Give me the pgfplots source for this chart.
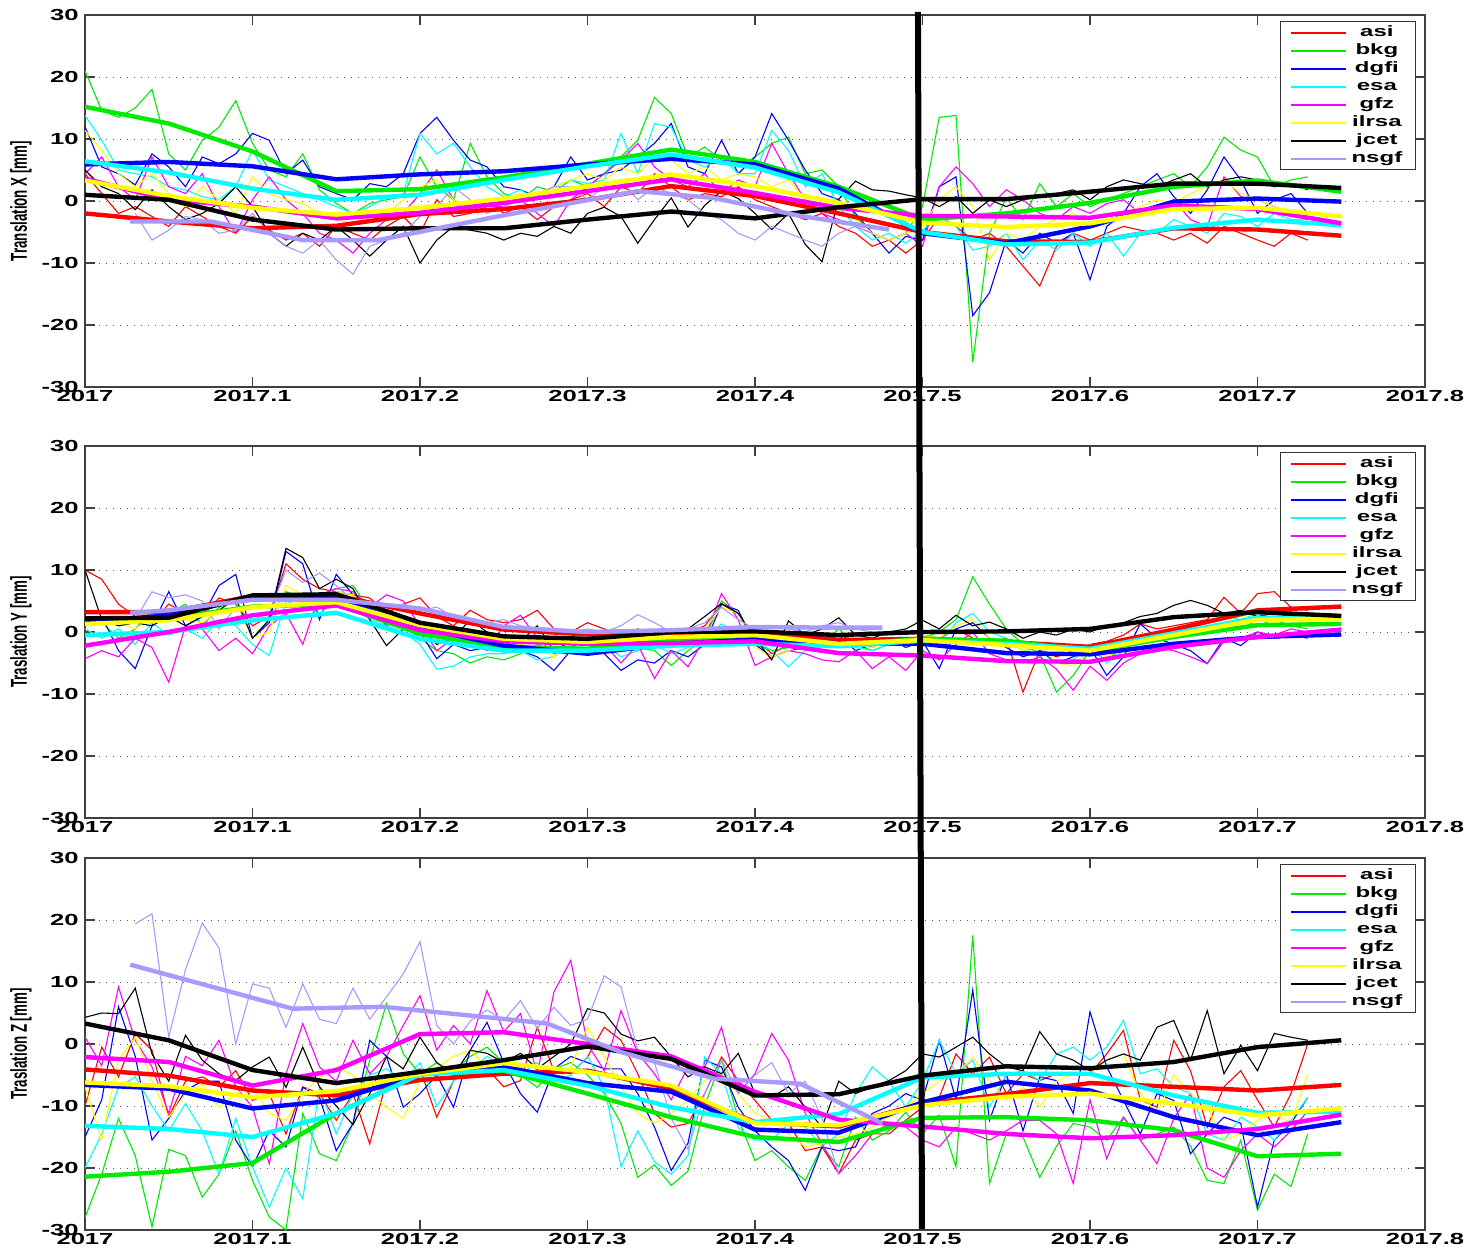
\documentclass[border=0pt]{standalone}
\usepackage{fontspec}
\setmainfont{Liberation Sans}
\newfontfamily\tickfamily[FakeStretch=1.6]{Liberation Sans}
\newfontfamily\ylabfamily[FakeStretch=0.58]{Liberation Sans}
\usepackage{pgfplots}
\usepackage{pgfplotstable}
\pgfplotsset{compat=1.18}

\newcommand{\tickfs}{\tickfamily\bfseries\fontsize{8}{9}\selectfont}
\newcommand{\legfs}{\tickfamily\bfseries\fontsize{7.5}{8}\selectfont}
\newcommand{\ylabfs}{\ylabfamily\bfseries\fontsize{11.5}{12}\selectfont}
% legend row: coloured line sample + centred label
\newcommand{\legent}[2]{\textcolor{#1}{\rule[1.3pt]{27.5pt}{0.9pt}}\hspace{1.5pt}\makebox[27.5pt][c]{\rule[-2pt]{0pt}{7.5pt}#2}}

\definecolor{cAsi}{rgb}{1,0,0}
\definecolor{cBkg}{rgb}{0,0.92,0}
\definecolor{cDgfi}{rgb}{0,0,1}
\definecolor{cEsa}{rgb}{0,1,1}
\definecolor{cGfz}{rgb}{1,0,1}
\definecolor{cIlrsa}{rgb}{1,1,0}
\definecolor{cJcet}{rgb}{0,0,0}
\definecolor{cNsgf}{rgb}{0.66,0.6,1}
\definecolor{cFrame}{rgb}{0.2,0.2,0.2}

% ---------------- Panel X ----------------
\pgfplotstableread{
x asi bkg dgfi esa gfz ilrsa jcet nsgf
2017.00 4.4 21.0 12.0 13.8 4.4 11.4 5.0 nan
2017.01 1.2 14.6 5.5 9.8 7.1 8.2 2.3 nan
2017.02 -2.0 13.5 4.4 5.0 2.3 4.4 1.2 nan
2017.03 -0.9 15.0 2.6 4.4 0.2 2.3 -1.4 -2.0
2017.04 -2.5 18.0 7.6 3.9 7.1 4.4 1.8 -6.3
2017.05 -4.1 7.6 5.5 2.3 2.3 1.2 -0.9 -4.7
2017.06 -0.9 5.0 2.3 1.8 1.2 -0.9 -3.0 -2.5
2017.07 -2.5 9.8 7.1 0.7 4.4 2.3 -2.0 -3.0
2017.08 -4.1 11.9 6.0 0.2 -0.9 0.2 -0.4 -5.2
2017.09 -5.2 16.2 7.6 2.3 -5.2 -2.0 2.3 -4.7
2017.10 -2.5 9.3 10.9 8.2 0.2 3.9 -0.9 -2.0
2017.11 -4.7 5.0 9.8 3.4 3.9 1.2 -5.2 -5.2
2017.12 -6.3 3.9 4.4 2.3 0.2 0.2 -7.3 -7.3
2017.13 -5.2 7.6 6.6 1.2 -2.0 -0.4 -5.2 -8.4
2017.14 -7.3 1.8 2.3 0.2 -5.2 -2.0 -6.3 -6.3
2017.15 -4.1 -0.4 1.2 -0.9 -6.3 -3.0 -4.1 -9.5
2017.16 -5.2 -2.0 0.2 -2.0 -8.4 -3.6 -6.3 -11.8
2017.17 -6.3 -0.4 2.8 -0.9 -5.2 -2.5 -8.9 -7.3
2017.18 -4.1 0.2 2.3 0.7 -3.0 -2.0 -6.3 -6.3
2017.19 -2.5 0.7 4.4 1.2 -2.0 0.2 -4.1 -5.2
2017.20 -5.2 7.1 10.9 10.9 1.2 2.3 -10.0 -2.5
2017.21 0.2 2.3 13.5 7.6 5.0 3.4 -6.3 -0.9
2017.22 -2.5 0.2 9.8 9.3 0.2 0.2 -4.1 2.3
2017.23 -2.0 9.3 6.6 5.5 -2.0 -0.9 -4.7 0.2
2017.24 0.2 3.9 5.5 2.3 -0.9 0.2 -5.2 -2.0
2017.25 -2.0 1.2 2.3 0.7 -0.9 0.2 -6.3 -0.9
2017.26 -0.9 0.2 1.8 1.8 0.2 1.2 -5.2 0.2
2017.27 -3.0 2.3 0.7 0.2 -2.0 0.2 -5.7 1.2
2017.28 -0.9 1.5 2.3 2.3 -4.1 2.3 -4.1 2.3
2017.29 0.2 3.4 7.1 3.4 0.2 3.4 -5.2 2.3
2017.30 1.2 2.3 3.4 2.8 2.3 4.4 -2.0 0.2
2017.31 -0.9 4.4 4.4 3.4 4.4 3.4 -1.0 2.3
2017.32 2.3 7.1 5.0 10.9 6.6 5.5 -2.5 3.4
2017.33 1.2 9.8 7.1 4.4 9.3 4.4 -6.8 0.2
2017.34 4.4 16.7 9.3 12.5 5.5 7.1 -3.0 2.3
2017.35 2.3 14.1 12.5 11.9 3.4 6.6 0.5 1.2
2017.36 0.2 7.1 5.5 6.6 2.3 4.4 -4.2 0.2
2017.37 1.2 8.7 4.4 5.5 4.4 5.5 -0.7 -2.0
2017.38 0.7 6.6 9.8 7.1 1.2 3.4 1.6 -3.0
2017.39 2.3 5.5 4.4 4.4 3.4 4.4 0.4 -5.2
2017.40 0.2 7.1 7.1 4.4 2.3 3.9 -2.0 -6.3
2017.41 -0.9 9.3 14.1 11.4 9.3 2.3 -4.6 -4.1
2017.42 -2.0 10.3 9.8 8.2 4.4 3.4 -2.0 -5.2
2017.43 -3.0 4.4 5.0 2.3 0.2 0.2 -7.0 -6.3
2017.44 -2.0 5.0 1.2 4.4 -2.0 -0.9 -9.8 -7.3
2017.45 -4.1 2.3 0.2 -0.9 -3.0 -2.0 0.3 -5.2
2017.46 -5.2 -2.5 -2.0 -4.1 -4.1 -3.0 3.2 -4.1
2017.47 -7.3 -5.2 -5.2 -6.3 -5.2 -5.2 1.8 -5.2
2017.48 -6.3 -6.3 -8.4 -5.2 -6.3 -6.3 1.6 nan
2017.49 -8.4 -5.2 -5.7 -6.8 -5.2 -5.2 1.0 nan
2017.50 -6.3 -0.9 -6.3 -4.7 -7.3 -4.1 0.5 nan
2017.51 -2.5 13.5 2.3 -2.5 2.3 0.2 -0.9 nan
2017.52 -4.1 13.8 3.9 -4.1 5.5 2.3 0.7 nan
2017.53 -6.3 -26.0 -18.5 -7.9 2.8 -0.9 -2.0 nan
2017.54 -5.2 -5.2 -14.8 -7.3 -0.9 -9.5 0.2 nan
2017.55 -7.3 0.5 -6.3 -5.2 1.8 -5.2 -0.9 nan
2017.56 -10.5 -3.0 -8.4 -9.5 0.2 -6.3 0.2 nan
2017.57 -13.7 2.8 -5.2 -6.3 -2.0 -4.1 0.7 nan
2017.58 -7.3 -0.9 -6.8 -7.9 -3.0 -3.0 1.2 nan
2017.59 -5.2 1.2 -5.2 -5.2 -0.9 -2.0 1.8 nan
2017.60 -6.3 -0.9 -12.7 -7.3 -2.0 -4.1 0.2 nan
2017.61 -5.2 0.2 -4.1 -5.2 -0.4 -2.5 2.3 nan
2017.62 -4.1 1.2 -2.0 -8.9 0.2 -2.0 3.4 nan
2017.63 -4.7 2.3 2.3 -5.2 -2.0 -0.9 2.8 nan
2017.64 -5.2 3.4 4.4 -5.2 -0.9 0.2 2.3 nan
2017.65 -6.3 4.4 0.7 -3.0 0.2 -0.4 3.4 nan
2017.66 -5.2 2.3 -2.0 -4.1 -3.0 1.2 4.4 nan
2017.67 -6.8 5.5 1.8 -5.2 -4.1 2.3 2.3 nan
2017.68 -4.1 10.3 7.1 -2.0 3.9 3.4 3.4 nan
2017.69 -5.2 8.2 3.4 -2.5 0.7 1.2 3.9 nan
2017.70 -6.3 7.1 -2.0 -4.1 0.2 0.2 3.4 nan
2017.71 -7.3 2.3 0.2 -2.0 -0.9 -0.9 2.3 nan
2017.72 -5.2 3.4 1.2 -3.0 -2.0 -2.0 2.8 nan
2017.73 -6.3 3.9 -2.0 -3.0 -3.0 -2.5 1.8 nan
}\tXa

\pgfplotstableread{
x asi bkg dgfi esa gfz ilrsa jcet
2017.00 -2.0 15.2 5.9 6.4 3.6 3.3 1.0
2017.05 -3.3 12.5 6.3 4.6 0.2 0.8 0.2
2017.10 -4.4 8.0 5.6 2.0 -0.9 -1.1 -3.0
2017.15 -4.0 1.6 3.5 0.2 -2.8 -2.2 -4.6
2017.20 -2.1 1.9 4.3 1.0 -1.9 -1.1 -4.4
2017.25 -1.3 3.8 4.8 3.4 -0.3 0.4 -4.4
2017.30 0.2 6.0 5.9 5.6 1.6 2.4 -3.0
2017.35 2.4 8.3 6.8 7.5 3.5 4.3 -1.7
2017.40 0.8 6.3 5.9 5.4 1.3 2.4 -2.8
2017.45 -2.0 2.3 2.0 1.4 -1.1 -0.3 -1.0
2017.50 -5.0 -3.0 -5.2 -5.0 -2.4 -3.5 0.3
2017.55 -6.5 -2.0 -6.8 -7.0 -2.5 -4.2 0.3
2017.60 -6.6 -0.3 -4.1 -6.7 -2.7 -3.6 1.5
2017.65 -4.4 2.3 -0.1 -4.3 -0.7 -1.3 2.8
2017.70 -4.6 3.3 0.4 -3.0 -1.3 -1.1 2.8
2017.75 -5.6 1.5 -0.1 -3.9 -3.6 -2.5 2.1
}\sXa

% ---------------- Panel Y ----------------
\pgfplotstableread{
x asi bkg dgfi esa gfz ilrsa jcet nsgf
2017.00 10.0 1.0 2.0 0.5 -4.3 2.0 10.0 nan
2017.01 8.5 1.5 2.5 -1.0 -3.0 1.0 2.0 nan
2017.02 4.5 -1.0 -3.0 0.5 -4.0 1.5 1.0 nan
2017.03 2.5 0.5 -5.9 -2.0 -1.0 0.5 1.5 2.0
2017.04 1.5 3.5 1.0 1.5 -2.5 2.5 1.0 6.5
2017.05 4.5 3.0 6.5 -0.5 -8.1 3.0 2.5 5.5
2017.06 3.0 4.5 1.0 0.5 1.0 2.0 1.0 6.0
2017.07 2.5 1.0 2.5 -1.0 0.5 1.5 2.5 5.0
2017.08 5.5 4.0 7.5 2.0 -3.0 3.5 3.5 0.5
2017.09 4.5 5.0 9.3 1.0 -1.0 5.0 5.5 4.0
2017.10 1.0 -1.0 -1.0 -2.0 -3.5 -1.0 -1.0 2.0
2017.11 2.5 2.0 1.5 -3.8 1.0 0.0 2.0 3.0
2017.12 11.0 6.5 13.0 5.0 3.0 7.5 13.5 10.0
2017.13 8.5 5.5 11.0 4.0 -2.0 6.0 12.0 8.0
2017.14 7.0 6.0 2.0 3.0 6.0 5.0 7.0 9.5
2017.15 6.5 7.0 9.3 5.0 7.0 6.5 8.5 7.5
2017.16 6.0 7.5 6.0 4.0 6.5 6.0 7.0 5.0
2017.17 5.5 3.5 4.0 2.0 4.0 3.5 2.0 4.5
2017.18 3.0 2.0 1.0 1.0 6.0 2.5 -2.2 3.5
2017.19 4.5 1.0 2.5 0.0 5.0 2.0 0.5 4.5
2017.20 5.5 -1.0 0.0 -2.0 1.0 0.5 1.0 3.5
2017.21 2.5 -3.0 -4.3 -6.0 -3.0 -2.0 -2.0 4.0
2017.22 1.0 -3.5 -2.0 -5.5 -1.0 -1.5 -1.0 2.5
2017.23 3.5 -5.0 -3.0 -4.0 -2.0 -2.5 2.0 2.0
2017.24 2.0 -4.0 -2.5 -3.5 -3.0 -1.5 0.0 1.5
2017.25 1.5 -4.5 -1.5 -3.5 1.0 -1.0 -1.0 2.0
2017.26 2.0 -3.5 -3.0 -3.0 2.7 -2.0 -1.5 1.0
2017.27 3.5 -2.0 -4.0 -4.5 -1.0 -2.5 1.0 0.5
2017.28 0.5 -3.0 -6.2 -4.0 -3.5 -4.0 -3.0 0.5
2017.29 0.0 -2.5 -3.0 -2.0 -2.5 -1.5 -1.5 0.0
2017.30 1.5 -3.5 -2.5 -3.0 -1.0 -2.0 -1.0 0.5
2017.31 0.5 -2.0 -3.5 -2.0 -2.0 -1.0 -0.5 0.0
2017.32 -0.5 -3.0 -6.2 -4.0 -5.0 -3.0 -1.0 1.0
2017.33 0.0 -2.5 -4.5 -3.0 -2.0 -1.0 0.5 2.8
2017.34 -1.0 -3.0 -5.0 -2.0 -7.5 -2.0 -0.5 1.5
2017.35 -0.5 -5.4 -3.0 -3.5 -3.0 -2.5 0.0 0.0
2017.36 0.0 -3.0 -4.0 -2.5 -5.6 -1.5 0.5 0.5
2017.37 1.0 -1.0 -2.0 -1.0 -1.0 0.5 2.5 1.5
2017.38 4.5 5.0 4.5 1.3 6.2 4.0 4.6 4.0
2017.39 3.0 3.0 3.5 0.0 2.0 3.0 3.0 2.0
2017.40 -1.0 -2.0 -2.0 -1.5 -5.4 -2.5 -1.0 0.5
2017.41 -3.5 -3.0 -4.0 -3.0 -4.0 -4.0 -4.5 1.0
2017.42 -2.0 -2.5 -3.0 -5.6 -3.0 -3.0 1.8 0.5
2017.43 -1.0 -1.5 -2.5 -3.0 -3.5 -2.0 -0.5 0.0
2017.44 -2.0 -2.0 -1.5 -2.0 -4.5 -1.5 0.5 1.0
2017.45 -0.5 0.5 -0.5 -1.0 -4.8 -1.0 2.3 1.5
2017.46 -1.5 -2.0 -3.0 -2.5 -3.0 -2.0 -0.5 0.5
2017.47 -2.5 -3.0 -2.0 -3.0 -5.9 -2.5 -1.0 0.0
2017.48 -1.5 -2.0 -1.0 -2.0 -4.0 -1.5 0.0 nan
2017.49 -2.0 -1.5 -2.5 -1.5 -6.2 -2.0 0.5 nan
2017.50 -0.5 -1.0 -1.5 -1.0 -3.0 -0.5 1.9 nan
2017.51 -1.0 0.0 -5.9 -2.0 -4.5 -1.0 0.5 nan
2017.52 0.5 2.0 0.5 1.5 -2.0 1.0 2.7 nan
2017.53 -1.0 8.9 1.5 3.0 0.0 2.0 1.0 nan
2017.54 -2.0 4.5 -1.0 0.0 -3.5 -1.0 1.6 nan
2017.55 -1.0 0.5 -2.5 -1.0 -4.5 -1.5 0.5 nan
2017.56 -9.7 -2.0 -4.0 -3.0 -5.0 -3.0 -1.0 nan
2017.57 -3.0 -3.5 -3.0 -2.5 -4.0 -2.0 0.0 nan
2017.58 -4.0 -9.7 -5.0 -5.0 -6.0 -5.0 -0.5 nan
2017.59 -3.0 -7.0 -4.0 -4.5 -9.4 -5.5 0.5 nan
2017.60 -2.0 -3.0 -2.5 -2.0 -5.5 -3.0 0.0 nan
2017.61 -1.5 -4.5 -7.0 -5.0 -7.8 -4.0 1.0 nan
2017.62 -0.5 -2.5 -4.0 -3.0 -5.0 -2.5 1.5 nan
2017.63 1.3 -1.0 1.3 -1.0 -3.5 -0.5 2.5 nan
2017.64 0.5 -1.5 -1.0 0.0 -2.5 0.0 3.0 nan
2017.65 1.0 0.0 -2.0 0.5 -3.0 0.5 4.3 nan
2017.66 1.5 0.5 -3.0 1.0 -4.0 1.0 5.1 nan
2017.67 2.0 0.0 -5.1 1.5 -5.1 1.5 4.3 nan
2017.68 5.6 1.5 -1.0 2.5 -1.5 2.0 3.0 nan
2017.69 3.0 2.0 -2.2 2.0 -1.0 2.5 3.5 nan
2017.70 6.2 1.0 0.0 3.0 0.0 2.0 2.5 nan
2017.71 6.5 2.0 -1.0 2.0 -0.5 1.5 3.0 nan
2017.72 4.0 1.0 -0.5 2.5 0.5 2.0 2.5 nan
2017.73 3.5 0.5 -1.0 2.0 0.0 1.5 3.0 nan
}\tYa

\pgfplotstableread{
x asi bkg dgfi esa gfz ilrsa jcet
2017.00 3.2 1.9 1.6 -0.5 -2.2 1.3 2.2
2017.05 3.2 2.2 2.7 0.0 0.0 1.9 2.3
2017.10 5.8 4.1 5.6 1.9 2.7 4.0 5.9
2017.15 5.9 4.5 5.4 3.1 4.3 4.8 6.1
2017.20 3.0 -0.3 0.7 -1.1 0.3 1.1 1.5
2017.25 0.4 -2.4 -2.2 -3.0 -1.5 -1.1 -0.7
2017.30 -0.4 -2.7 -3.5 -3.0 -1.9 -1.6 -1.1
2017.35 -0.5 -1.3 -1.9 -2.2 -1.8 -0.8 0.0
2017.40 0.0 -1.1 -1.2 -1.9 -1.5 -0.5 0.1
2017.45 -1.3 -2.1 -1.8 -2.3 -3.4 -1.9 -0.5
2017.50 -1.1 -1.1 -1.9 -1.4 -3.8 -1.3 0.0
2017.55 -1.6 -1.4 -3.4 -1.9 -4.7 -2.1 0.1
2017.60 -2.4 -3.1 -3.6 -2.7 -4.8 -3.0 0.5
2017.65 0.4 -0.8 -1.9 -0.2 -2.4 -0.5 2.4
2017.70 3.5 1.1 -0.8 2.3 -0.8 2.0 3.2
2017.75 4.1 1.3 -0.4 2.3 0.4 2.2 2.6
}\sYa

% ---------------- Panel Z ----------------
\pgfplotstableread{
x asi bkg dgfi esa gfz ilrsa jcet nsgf
2017.00 -10.0 -28.0 -15.0 -20.0 1.1 -6.9 4.3 nan
2017.01 -0.5 -21.0 -9.0 -14.5 -3.5 -15.5 5.0 nan
2017.02 -5.3 -12.0 6.0 -7.0 9.2 -2.6 4.9 nan
2017.03 1.7 -18.0 -2.0 -5.3 0.6 1.1 9.0 19.4
2017.04 -1.0 -29.5 -15.5 -10.0 -3.7 -5.9 -1.6 21.0
2017.05 -11.8 -17.0 -12.0 -14.0 -11.2 -11.8 -6.0 1.1
2017.06 -6.0 -18.0 -7.5 -9.6 -2.0 -8.0 1.4 12.0
2017.07 -5.3 -24.7 -6.0 -14.0 -3.5 -6.5 -2.6 19.5
2017.08 -6.9 -21.0 -6.0 -21.0 0.6 -10.2 -4.8 15.5
2017.09 -4.3 -14.0 -15.5 -12.0 -6.9 -8.0 -5.9 0.0
2017.10 -9.1 -22.0 -19.8 -19.8 -10.2 -6.9 -3.7 9.7
2017.11 -8.0 -27.9 -14.0 -26.3 -19.3 -11.2 -2.1 9.0
2017.12 -14.5 -30.0 -16.6 -20.0 -4.8 -12.3 -7.0 2.7
2017.13 -6.9 -11.2 -7.0 -25.0 3.3 -8.0 -0.5 9.7
2017.14 -8.0 -17.7 -8.6 -7.0 -3.7 -5.3 -6.9 4.0
2017.15 -12.3 -18.8 -17.2 -14.5 -6.0 -3.7 -10.0 3.3
2017.16 -8.0 -12.8 -12.8 -8.0 0.6 -5.0 -13.0 9.0
2017.17 -16.1 -2.6 0.6 -5.0 -4.8 -8.0 -8.0 4.0
2017.18 -6.0 6.5 -2.0 -4.0 -2.0 -10.2 -2.0 7.6
2017.19 -5.0 -1.6 -10.2 -6.0 3.0 -12.0 -4.0 11.3
2017.20 -4.0 -4.8 -8.0 -3.0 7.8 -6.0 1.1 16.5
2017.21 -11.8 -3.0 -5.0 -10.0 -1.0 -4.0 -3.0 3.0
2017.22 -6.0 -4.5 -10.2 -6.0 3.0 -2.0 -5.0 0.0
2017.23 -3.0 -2.0 -1.0 -4.0 0.0 -1.0 -1.0 3.7
2017.24 -4.0 -0.5 3.5 -2.0 8.6 -3.7 -1.5 5.5
2017.25 -6.9 -3.0 -3.0 -4.0 2.0 -4.8 -3.0 3.8
2017.26 -5.9 -5.0 -8.0 -5.0 4.9 -3.7 -1.5 7.0
2017.27 2.7 -7.0 -11.0 -3.0 -4.8 -5.9 -4.0 2.5
2017.28 -4.3 -4.0 -4.0 -6.0 8.4 -6.5 -2.0 5.9
2017.29 -4.8 -3.0 -2.0 -5.0 13.5 -3.7 0.0 3.0
2017.30 -2.1 -5.0 -3.0 -2.0 0.0 2.7 5.7 4.0
2017.31 2.7 -8.0 -4.0 -7.0 -4.3 -2.1 5.0 11.0
2017.32 0.6 -12.8 -4.0 -19.8 5.4 -6.9 1.6 9.2
2017.33 -4.8 -21.5 -8.0 -14.0 -1.5 -11.2 0.5 -1.0
2017.34 -11.2 -19.5 -13.4 -19.0 -4.8 -12.8 1.1 -3.0
2017.35 -13.4 -22.8 -20.4 -21.0 -9.0 -11.2 -2.1 -12.0
2017.36 -12.8 -20.5 -16.0 -18.0 -3.7 -9.0 -5.3 -17.0
2017.37 -8.0 -10.0 -2.6 -2.1 -3.7 -5.9 -3.7 -8.0
2017.38 -2.1 -2.5 -3.7 -4.8 2.7 -4.8 -4.8 -2.5
2017.39 -5.9 -12.0 -10.2 -13.5 -8.0 -8.0 -1.5 -8.0
2017.40 -9.1 -18.8 -14.0 -15.5 -4.8 -11.2 -8.0 -5.0
2017.41 -12.3 -17.2 -16.6 -15.5 1.7 -12.3 -8.6 -3.0
2017.42 -12.8 -19.8 -18.8 -12.8 -2.6 -14.5 -6.9 -8.0
2017.43 -17.2 -22.0 -23.6 -13.4 -11.2 -16.6 -10.2 -6.0
2017.44 -16.6 -16.5 -16.6 -16.5 -16.1 -16.1 -13.4 -12.0
2017.45 -20.9 -19.8 -17.2 -14.5 -20.9 -15.0 -6.0 -21.0
2017.46 -15.5 -11.8 -16.6 -8.0 -18.0 -14.5 -8.0 nan
2017.47 -14.5 -15.5 -11.2 -3.7 -14.5 -13.4 -6.9 nan
2017.48 -14.5 -14.0 -10.0 -6.0 -12.8 -11.8 -5.9 nan
2017.49 -12.3 -11.0 -8.0 -10.2 -13.4 -10.2 -4.3 nan
2017.50 -10.2 -14.5 -9.1 -6.0 -15.5 -8.0 -1.6 nan
2017.51 -8.6 -11.5 0.6 0.6 -16.6 -6.0 -2.1 nan
2017.52 -1.6 -19.8 -9.0 -4.8 -13.4 -4.8 -0.5 nan
2017.53 -4.8 17.5 8.7 -2.6 -14.5 -2.1 1.1 nan
2017.54 -2.1 -22.5 -12.3 -10.2 -15.5 -5.9 -1.6 nan
2017.55 -8.0 -14.5 -4.8 -5.0 -14.0 -9.0 -3.7 nan
2017.56 -4.8 -15.0 -14.0 -4.3 -12.3 -7.0 -4.3 nan
2017.57 -5.9 -21.5 -5.3 -5.9 -12.3 -10.2 2.0 nan
2017.58 -4.8 -16.5 -5.9 -1.6 -14.5 -6.0 -1.6 nan
2017.59 -4.8 -12.8 -11.2 -0.5 -22.5 -4.8 -2.6 nan
2017.60 -4.8 -13.4 5.2 -2.6 -9.0 -4.8 -4.3 nan
2017.61 -1.6 -15.5 -3.7 -0.5 -18.5 -2.6 -2.6 nan
2017.62 2.2 -11.8 -9.1 3.8 -11.8 -1.6 -1.6 nan
2017.63 -9.0 -15.5 -14.5 -4.8 -15.5 -8.0 -2.6 nan
2017.64 -10.2 -14.5 -8.0 -4.0 -19.3 -11.2 2.7 nan
2017.65 0.6 -13.4 -9.1 -6.9 -12.0 -5.0 3.8 nan
2017.66 -4.3 -16.5 -17.7 -8.0 -8.0 -8.0 -2.6 nan
2017.67 -13.4 -22.0 -14.5 -14.5 -20.0 -10.2 5.4 nan
2017.68 -6.9 -22.5 -11.8 -15.5 -21.5 -15.5 -4.8 nan
2017.69 -4.3 -15.5 -12.8 -11.8 -17.2 -14.5 -0.2 nan
2017.70 -9.0 -26.8 -26.3 -13.4 -14.5 -12.3 -4.3 nan
2017.71 -13.4 -21.0 -15.5 -15.5 -16.6 -11.2 1.7 nan
2017.72 -8.0 -23.0 -12.8 -12.3 -14.0 -12.8 1.1 nan
2017.73 0.0 -14.5 -8.6 -8.6 -10.8 -4.8 0.6 nan
}\tZa

\pgfplotstableread{
x asi bkg dgfi esa gfz ilrsa jcet
2017.00 -4.1 -21.4 -6.6 -13.2 -2.1 -6.2 3.3
2017.05 -5.1 -20.6 -7.2 -13.7 -2.9 -6.8 0.6
2017.10 -7.5 -19.2 -10.4 -15.0 -6.7 -8.6 -4.2
2017.15 -8.3 -11.2 -9.1 -11.2 -4.2 -7.6 -6.3
2017.20 -5.8 -4.8 -4.8 -4.9 1.6 -4.8 -4.5
2017.25 -4.8 -4.3 -3.7 -4.2 1.9 -3.1 -2.6
2017.30 -4.3 -8.0 -6.3 -6.7 0.0 -4.5 -0.4
2017.35 -7.2 -11.8 -7.7 -10.2 -2.0 -6.7 -2.4
2017.40 -12.6 -15.0 -13.8 -12.6 -7.7 -12.8 -8.3
2017.45 -13.3 -15.8 -14.3 -11.3 -12.2 -13.1 -8.1
2017.50 -9.6 -11.9 -9.4 -5.4 -13.3 -9.9 -5.1
2017.55 -8.1 -11.8 -6.1 -4.8 -14.5 -8.5 -3.6
2017.60 -6.3 -12.3 -7.5 -4.8 -15.2 -8.0 -3.9
2017.65 -6.9 -13.9 -11.8 -8.3 -14.7 -9.6 -2.9
2017.70 -7.5 -18.1 -14.7 -11.1 -13.7 -11.5 -0.5
2017.75 -6.6 -17.7 -12.6 -10.9 -11.4 -10.4 0.6
}\sZa

\pgfplotsset{
  panel/.style={
    scale only axis, width=670pt, height=186pt, anchor=north west,
    xmin=2017, xmax=2017.8, ymin=-30, ymax=30,
    xtick={2017,2017.1,2017.2,2017.3,2017.4,2017.5,2017.6,2017.7,2017.8},
    xticklabels={2017,2017.1,2017.2,2017.3,2017.4,2017.5,2017.6,2017.7,2017.8},
    ytick={-30,-20,-10,0,10,20,30},
    yticklabels={-30,-20,-10,0,10,20,30},
    tick align=inside, major tick length=5pt,
    ymajorgrids,
    grid style={black!65, line width=0.5pt, dash pattern=on 0.5pt off 3pt},
    axis line style={black!75, line width=0.6pt},
    tick style={black!75, line width=0.6pt},
    xticklabel style={font=\tickfs, inner sep=1.5pt},
    yticklabel style={font=\tickfs, inner sep=3pt},
    every axis y label/.style={at={(axis description cs:-0.0478,0.5)}, rotate=90, anchor=center, font=\ylabfs},
    legend cell align=left,
    legend image code/.code={},
    legend style={at={(1,1)}, anchor=north east, xshift=-4.5pt, yshift=-3pt,
      draw=cFrame, line width=0.6pt, fill=white, font=\legfs,
      inner xsep=5.5pt, inner ysep=1.9pt, row sep=2.0pt, column sep=0pt,
      nodes={inner sep=0pt}},
    legend entries={\legent{cAsi}{asi},\legent{cBkg}{bkg},\legent{cDgfi}{dgfi},\legent{cEsa}{esa},\legent{cGfz}{gfz},\legent{cIlrsa}{ilrsa},\legent{cJcet}{jcet},\legent{cNsgf}{nsgf}},
  },
  thinl/.style={line width=0.55pt},
  thickl/.style={line width=2.2pt, forget plot},
}

\newcommand{\thinplots}[1]{%
  \addplot[thinl, draw=cAsi] table[x=x,y=asi]{#1};
  \addplot[thinl, draw=cBkg] table[x=x,y=bkg]{#1};
  \addplot[thinl, draw=cDgfi] table[x=x,y=dgfi]{#1};
  \addplot[thinl, draw=cEsa] table[x=x,y=esa]{#1};
  \addplot[thinl, draw=cGfz] table[x=x,y=gfz]{#1};
  \addplot[thinl, draw=cIlrsa] table[x=x,y=ilrsa]{#1};
  \addplot[thinl, draw=cJcet] table[x=x,y=jcet]{#1};
  \addplot[thinl, draw=cNsgf] table[x=x,y=nsgf]{#1};
}
\newcommand{\thickplots}[1]{%
  \addplot[thickl, draw=cAsi] table[x=x,y=asi]{#1};
  \addplot[thickl, draw=cBkg] table[x=x,y=bkg]{#1};
  \addplot[thickl, draw=cDgfi] table[x=x,y=dgfi]{#1};
  \addplot[thickl, draw=cEsa] table[x=x,y=esa]{#1};
  \addplot[thickl, draw=cGfz] table[x=x,y=gfz]{#1};
  \addplot[thickl, draw=cIlrsa] table[x=x,y=ilrsa]{#1};
  \addplot[thickl, draw=cJcet] table[x=x,y=jcet]{#1};
}

\begin{document}
\begin{tikzpicture}
\useasboundingbox (0,0) rectangle (734.5pt,-625pt);

\begin{axis}[panel, at={(42.5pt,-7.5pt)}, ylabel={Translation X [mm]}]
  \thinplots{\tXa}
  \thickplots{\sXa}
  \addplot[thickl, draw=cNsgf] coordinates {(2017.027,-3.3) (2017.075,-3.3) (2017.13,-6.3) (2017.175,-6.3) (2017.25,-2.3) (2017.33,1.6) (2017.375,0.5) (2017.427,-2.4) (2017.48,-4.6)};
  \coordinate (vtop) at (axis cs:2017.4973,30.5);
\end{axis}

\begin{axis}[panel, at={(42.5pt,-223pt)}, ylabel={Traslation Y [mm]}]
  \thinplots{\tYa}
  \thickplots{\sYa}
  \addplot[thickl, draw=cNsgf] coordinates {(2017.027,3.1) (2017.05,3.5) (2017.10,5.2) (2017.15,5.2) (2017.20,3.8) (2017.25,0.8) (2017.30,0.0) (2017.35,0.3) (2017.40,0.8) (2017.45,0.7) (2017.476,0.7)};
\end{axis}

\begin{axis}[panel, at={(42.5pt,-429pt)}, ylabel={Traslation Z [mm]}]
  \thinplots{\tZa}
  \thickplots{\sZa}
  \addplot[thickl, draw=cNsgf] coordinates {(2017.027,12.8) (2017.124,5.7) (2017.178,6.0) (2017.248,4.1) (2017.276,3.3) (2017.32,-1.3) (2017.376,-5.6) (2017.427,-6.4) (2017.476,-12.8)};
  \coordinate (vbot) at (axis cs:2017.4997,-29.8);
\end{axis}

\draw[line width=3pt, black] (vtop) -- (vbot);
\end{tikzpicture}
\end{document}
